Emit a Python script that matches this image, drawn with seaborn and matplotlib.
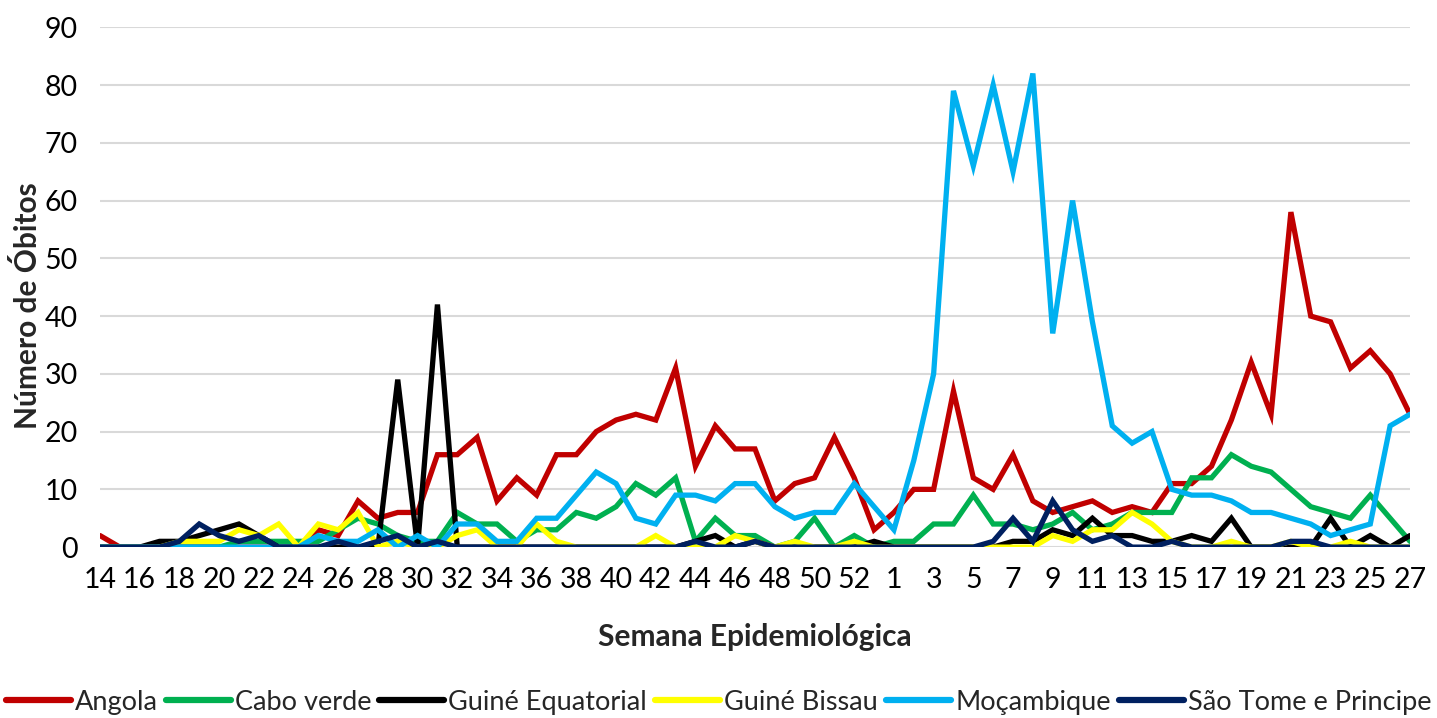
import matplotlib
matplotlib.use("Agg")
import matplotlib.pyplot as plt
import seaborn as sns
import pandas as pd

weeks = [14, 15, 16, 17, 18, 19, 20, 21, 22, 23, 24, 25, 26, 27, 28, 29, 30, 31, 32, 33,
         34, 35, 36, 37, 38, 39, 40, 41, 42, 43, 44, 45, 46, 47, 48, 49, 50, 51, 52, 53,
         1, 2, 3, 4, 5, 6, 7, 8, 9, 10, 11, 12, 13, 14, 15, 16, 17, 18, 19, 20,
         21, 22, 23, 24, 25, 26, 27]

angola = [2, 0, 0, 0, 0, 0, 0, 0, 0, 0, 0, 3, 2, 8, 5, 6, 6, 16, 16, 19,
          8, 12, 9, 16, 16, 20, 22, 23, 22, 31, 14, 21, 17, 17, 8, 11, 12, 19, 12, 3,
          6, 10, 10, 27, 12, 10, 16, 8, 6, 7, 8, 6, 7, 6, 11, 11, 14, 22, 32, 23,
          58, 40, 39, 31, 34, 30, 23]
cabo_verde = [0, 0, 0, 0, 0, 0, 0, 1, 1, 1, 1, 1, 3, 5, 4, 2, 1, 1, 6, 4,
              4, 1, 3, 3, 6, 5, 7, 11, 9, 12, 1, 5, 2, 2, 0, 1, 5, 0, 2, 0,
              1, 1, 4, 4, 9, 4, 4, 3, 4, 6, 3, 4, 6, 6, 6, 12, 12, 16, 14, 13,
              10, 7, 6, 5, 9, 5, 1]
guine_equatorial = [0, 0, 0, 1, 1, 2, 3, 4, 2, 0, 0, 0, 0, 0, 0, 29, 0, 42, 0, 0,
                    0, 0, 0, 0, 0, 0, 0, 0, 0, 0, 1, 2, 0, 1, 0, 0, 0, 0, 0, 1,
                    0, 0, 0, 0, 0, 0, 1, 1, 3, 2, 5, 2, 2, 1, 1, 2, 1, 5, 0, 0,
                    0, 0, 5, 0, 2, 0, 2]
guine_bissau = [0, 0, 0, 0, 1, 1, 1, 3, 2, 4, 0, 4, 3, 6, 0, 1, 0, 0, 2, 3,
                0, 0, 4, 1, 0, 0, 0, 0, 2, 0, 0, 0, 2, 1, 0, 1, 0, 0, 1, 0,
                0, 0, 0, 0, 0, 0, 0, 0, 2, 1, 3, 3, 6, 4, 1, 0, 0, 1, 0, 0,
                1, 0, 0, 1, 0, 0, 0]
mocambique = [0, 0, 0, 0, 0, 0, 0, 0, 0, 0, 0, 2, 1, 1, 3, 0, 2, 0, 4, 4,
              1, 1, 5, 5, 9, 13, 11, 5, 4, 9, 9, 8, 11, 11, 7, 5, 6, 6, 11, 7,
              3, 15, 30, 79, 66, 80, 65, 82, 37, 60, 39, 21, 18, 20, 10, 9, 9, 8, 6, 6,
              5, 4, 2, 3, 4, 21, 23]
sao_tome = [0, 0, 0, 0, 1, 4, 2, 1, 2, 0, 0, 0, 1, 0, 1, 2, 0, 1, 0, 0,
            0, 0, 0, 0, 0, 0, 0, 0, 0, 0, 1, 0, 0, 1, 0, 0, 0, 0, 0, 0,
            0, 0, 0, 0, 0, 1, 5, 1, 8, 3, 1, 2, 0, 0, 1, 0, 0, 0, 0, 0,
            1, 1, 0, 0, 0, 0, 0]

countries = ["Angola", "Cabo verde", "Guiné Equatorial", "Guiné Bissau",
             "Moçambique", "São Tome e Principe"]
series = [angola, cabo_verde, guine_equatorial, guine_bissau, mocambique, sao_tome]
colors = ["#C00000", "#00B050", "#000000", "#FFFF00", "#00B0F0", "#002060"]

rows = []
for name, vals in zip(countries, series):
    for i, v in enumerate(vals):
        rows.append({"pos": i, "value": v, "country": name})
df = pd.DataFrame(rows)

sns.set_theme(style="white")
plt.rcParams["font.family"] = ["Lato", "DejaVu Sans"]

fig = plt.figure(figsize=(14.37, 7.18), dpi=100)
ax = fig.add_axes([0.0696, 0.238, 0.9116, 0.724])

sns.lineplot(data=df, x="pos", y="value", hue="country", hue_order=countries,
             palette=dict(zip(countries, colors)), linewidth=3.8, ax=ax,
             legend=False, sort=False)
for ln in ax.lines:
    ln.set_solid_joinstyle("miter")

ax.set_xlim(0, len(weeks) - 1)
ax.set_ylim(0, 90)
ax.set_yticks(range(0, 91, 10))
ax.set_xticks(range(0, len(weeks), 2))
ax.set_xticklabels([str(w) for w in weeks[::2]])
ax.tick_params(axis="both", labelsize=20.5, length=0, colors="#000000")
ax.tick_params(axis="x", pad=14)
ax.tick_params(axis="y", pad=16)
ax.yaxis.grid(True, color="#d9d9d9", linewidth=1.5)
ax.set_axisbelow(True)
for s in ax.spines.values():
    s.set_visible(False)

ax.set_xlabel("Semana Epidemiológica", fontsize=21.5, fontweight="bold", labelpad=22)
ax.set_ylabel("Número de Óbitos", fontsize=21.5, fontweight="bold")
ax.yaxis.set_label_coords(-0.044, 0.465)

handles = ax.lines[:6]
fig.legend(handles, countries, loc="center", bbox_to_anchor=(0.5, 0.022),
           ncol=6, frameon=False, fontsize=19.5, handlelength=2.4,
           handletextpad=0.15, columnspacing=0.3, borderpad=0.1,
           borderaxespad=0.0)
for h in fig.legends[0].get_lines():
    h.set_linewidth(4.5)

fig.savefig("out.png", dpi=100)
